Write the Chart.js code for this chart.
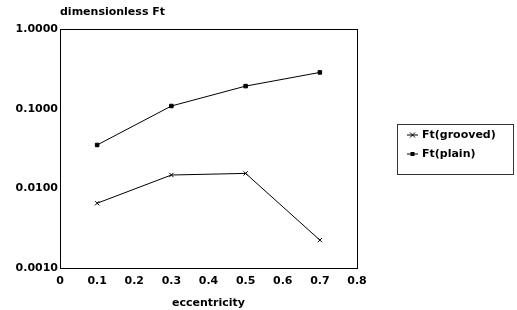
<!DOCTYPE html>
<html>
<head>
<meta charset="utf-8">
<script src="https://cdn.jsdelivr.net/npm/chart.js@4"></script>
<style>
  html, body { margin: 0; padding: 0; background: #fff; }
  #wrap { width: 517px; height: 310px; }
</style>
</head>
<body>
<div id="wrap"><canvas id="chart" width="517" height="310"></canvas></div>
<script>
// Data
const eccentricity = [0.1, 0.3, 0.5, 0.7];
const ftGrooved = [0.0065, 0.0147, 0.0154, 0.00224];
const ftPlain = [0.035, 0.108, 0.192, 0.285];
const yTicks = [0.001, 0.01, 0.1, 1];
const seriesNames = ['Ft(grooved)', 'Ft(plain)'];

const FONT = 'DejaVu Sans';

// Frame around plot, y-axis title and the boxed legend
const extras = {
    id: 'extras',
    afterDraw(chart) {
        const ctx = chart.ctx;
        const a = chart.chartArea;
        ctx.save();
        ctx.strokeStyle = '#000';
        ctx.lineWidth = 1;
        ctx.strokeRect(Math.round(a.left) + 0.5, Math.round(a.top) + 0.5,
            Math.round(a.right - a.left), Math.round(a.bottom - a.top));

        ctx.fillStyle = '#000';
        ctx.font = 'bold 11px "' + FONT + '"';
        ctx.textBaseline = 'middle';
        ctx.textAlign = 'left';
        ctx.fillText('dimensionless Ft', 60, 12);

        // legend
        ctx.strokeStyle = '#333';
        ctx.strokeRect(397.5, 124.5, 116, 50);
        const rows = [135, 154];
        rows.forEach((y, i) => {
            ctx.strokeStyle = '#000';
            ctx.beginPath();
            ctx.moveTo(407, y);
            ctx.lineTo(418, y);
            ctx.stroke();
            const cx = 412.5;
            if (i === 0) {
                ctx.beginPath();
                ctx.moveTo(cx - 2.5, y - 2.5); ctx.lineTo(cx + 2.5, y + 2.5);
                ctx.moveTo(cx - 2.5, y + 2.5); ctx.lineTo(cx + 2.5, y - 2.5);
                ctx.stroke();
            } else {
                ctx.fillRect(cx - 2, y - 2, 4, 4);
            }
            ctx.fillText(seriesNames[i], 422, y);
        });
        ctx.restore();
    }
};

new Chart(document.getElementById('chart'), {
    type: 'line',
    data: {
        datasets: [
            {
                label: seriesNames[0],
                data: eccentricity.map((x, i) => ({ x: x, y: ftGrooved[i] })),
                borderColor: '#000',
                borderWidth: 1,
                pointStyle: 'crossRot',
                pointRadius: 3,
                pointBorderColor: '#000',
                pointBorderWidth: 1
            },
            {
                label: seriesNames[1],
                data: eccentricity.map((x, i) => ({ x: x, y: ftPlain[i] })),
                borderColor: '#000',
                borderWidth: 1,
                pointStyle: 'rect',
                pointRadius: 2.5,
                pointBackgroundColor: '#000',
                pointBorderColor: '#000',
                pointBorderWidth: 1
            }
        ]
    },
    options: {
        responsive: false,
        animation: false,
        events: [],
        layout: { padding: { left: 0, right: 160, top: 29, bottom: 0 } },
        plugins: {
            legend: { display: false },
            tooltip: { enabled: false }
        },
        scales: {
            x: {
                type: 'linear',
                min: 0,
                max: 0.8,
                afterFit(scale) { scale.height = 42; },
                grid: { display: false },
                border: { display: true, color: '#000', width: 1 },
                ticks: {
                    stepSize: 0.1,
                    color: '#000',
                    padding: -1,
                    font: { family: FONT, size: 11, weight: 'bold' },
                    callback: v => (v === 0 ? '0' : v.toFixed(1))
                },
                title: {
                    display: true,
                    text: 'eccentricity',
                    color: '#000',
                    padding: { top: 6, bottom: 0 },
                    font: { family: FONT, size: 11, weight: 'bold' }
                }
            },
            y: {
                type: 'logarithmic',
                min: 0.001,
                max: 1,
                afterFit(scale) { scale.width = 60; },
                afterBuildTicks(scale) {
                    scale.ticks = yTicks.map(v => ({ value: v }));
                },
                grid: { display: false },
                border: { display: true, color: '#000', width: 1 },
                ticks: {
                    color: '#000',
                    padding: -6,
                    font: { family: FONT, size: 11, weight: 'bold' },
                    callback: v => Number(v).toFixed(4)
                }
            }
        }
    },
    plugins: [extras]
});
</script>
</body>
</html>
